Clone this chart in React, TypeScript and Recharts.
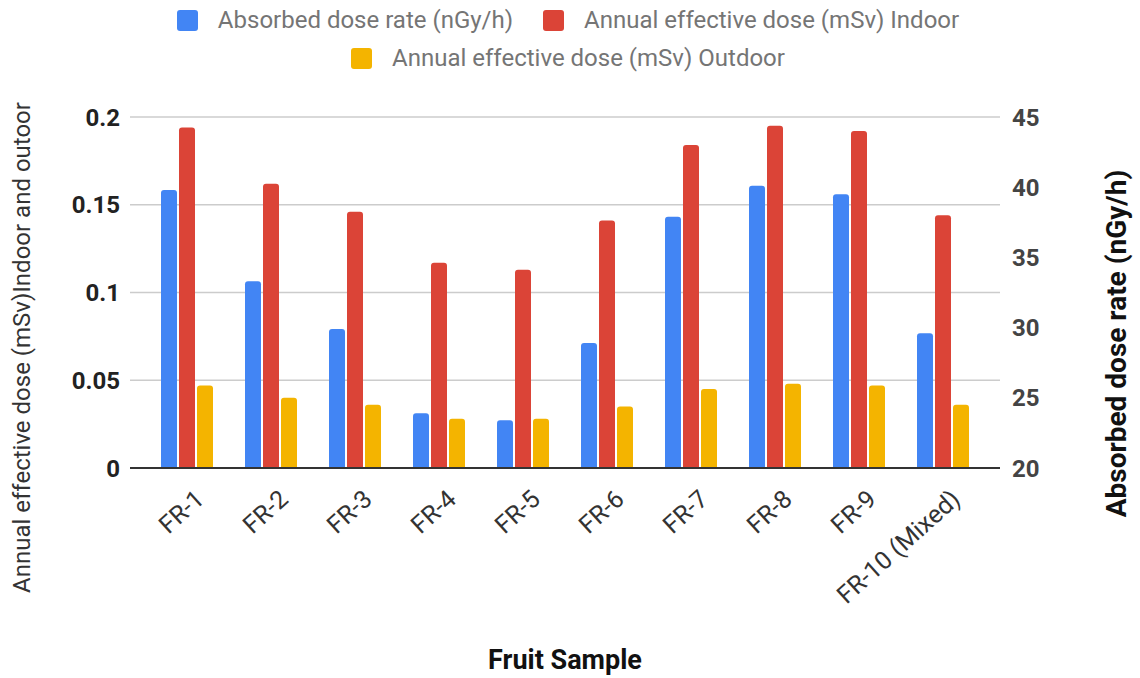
import React from 'react';
import { BarChart, Bar, XAxis, YAxis, CartesianGrid, Label } from 'recharts';

const categories = ['FR-1', 'FR-2', 'FR-3', 'FR-4', 'FR-5', 'FR-6', 'FR-7', 'FR-8', 'FR-9', 'FR-10 (Mixed)'];
const absorbedDoseRate = [39.8, 33.3, 29.9, 23.9, 23.4, 28.9, 37.9, 40.1, 39.5, 29.6];
const indoorDose = [0.194, 0.162, 0.146, 0.117, 0.113, 0.141, 0.184, 0.195, 0.192, 0.144];
const outdoorDose = [0.047, 0.04, 0.036, 0.028, 0.028, 0.035, 0.045, 0.048, 0.047, 0.036];

const leftTicks = [0, 0.05, 0.1, 0.15, 0.2];
const rightTicks = [20, 25, 30, 35, 40, 45];

const seriesNames = [
  'Absorbed dose rate (nGy/h)',
  'Annual effective dose (mSv) Indoor',
  'Annual effective dose (mSv) Outdoor',
];
const seriesColors = ['#4285F4', '#DB4437', '#F4B400'];

const data = categories.map((c, i) => ({
  name: c,
  absorbed: absorbedDoseRate[i],
  indoor: indoorDose[i],
  outdoor: outdoorDose[i],
}));

const FONT = 'Roboto, "Noto Sans", sans-serif';

const XTick = (props: any) => {
  const { x, y, payload } = props;
  const tx = x + 13;
  const ty = y + 27;
  return (
    <text
      x={tx}
      y={ty}
      textAnchor="end"
      dominantBaseline="central"
      transform={`rotate(-42, ${tx}, ${ty})`}
      fill="#333"
      fontSize={25}
      fontFamily={FONT}
    >
      {payload.value}
    </text>
  );
};

export default function App() {
  return (
    <div style={{ position: 'absolute', left: 0, top: 0, width: 1140, height: 678, background: '#fff', fontFamily: FONT }}>
      <div
        style={{
          position: 'absolute',
          left: 150,
          top: 8,
          width: 836,
          display: 'flex',
          flexWrap: 'wrap',
          justifyContent: 'center',
          rowGap: 14,
          columnGap: 30,
        }}
      >
        {seriesNames.map((n, i) => (
          <div key={n} style={{ display: 'flex', alignItems: 'center', height: 24 }}>
            <div style={{ width: 21, height: 21, borderRadius: 3, background: seriesColors[i], marginRight: 20 }} />
            <span style={{ fontSize: 24, color: '#757575', whiteSpace: 'nowrap', lineHeight: '24px' }}>{n}</span>
          </div>
        ))}
      </div>
      <BarChart
        width={1140}
        height={678}
        data={data}
        margin={{ top: 117, right: 0, bottom: 0, left: 0 }}
        barSize={16}
        barGap={2}
        barCategoryGap={16}
        style={{ fontFamily: FONT }}
      >
        <CartesianGrid yAxisId="left" vertical={false} stroke="#cccccc" strokeWidth={1.5} />
        <XAxis
          dataKey="name"
          height={210}
          interval={0}
          padding={{ left: 15, right: 15 }}
          axisLine={{ stroke: '#333', strokeWidth: 2 }}
          tickLine={false}
          tickSize={0}
          tickMargin={0}
          tick={<XTick />}
        >
          <Label
            content={(p: any) => {
              const vb = p.viewBox;
              return (
                <text
                  x={vb.x + vb.width / 2}
                  y={669}
                  textAnchor="middle"
                  fontSize={27}
                  fontWeight={700}
                  fill="#111"
                  fontFamily={FONT}
                >
                  Fruit Sample
                </text>
              );
            }}
          />
        </XAxis>
        <YAxis
          yAxisId="left"
          orientation="left"
          width={130}
          domain={[0, 0.2]}
          ticks={leftTicks}
          axisLine={false}
          tickLine={false}
          tickSize={0}
          tickMargin={10}
          tick={{ fontSize: 24, fontWeight: 700, fill: '#222', fontFamily: FONT }}
        >
          <Label
            content={(p: any) => {
              const vb = p.viewBox;
              const cx = 22;
              const cy = vb.y + vb.height / 2 + 55;
              return (
                <text
                  x={cx}
                  y={cy}
                  textAnchor="middle"
                  dominantBaseline="central"
                  transform={`rotate(-90, ${cx}, ${cy})`}
                  fontSize={24}
                  fill="#333"
                  fontFamily={FONT}
                >
                  Annual effective dose (mSv)Indoor and outoor
                </text>
              );
            }}
          />
        </YAxis>
        <YAxis
          yAxisId="right"
          orientation="right"
          width={140}
          domain={[20, 45]}
          ticks={rightTicks}
          axisLine={false}
          tickLine={false}
          tickSize={0}
          tickMargin={12}
          tick={{ fontSize: 24, fontWeight: 700, fill: '#444', fontFamily: FONT }}
        >
          <Label
            content={(p: any) => {
              const vb = p.viewBox;
              const cx = 1116;
              const cy = vb.y + vb.height / 2 + 51;
              return (
                <text
                  x={cx}
                  y={cy}
                  textAnchor="middle"
                  dominantBaseline="central"
                  transform={`rotate(-90, ${cx}, ${cy})`}
                  fontSize={28}
                  fontWeight={700}
                  fill="#111"
                  fontFamily={FONT}
                >
                  Absorbed dose rate (nGy/h)
                </text>
              );
            }}
          />
        </YAxis>
        <Bar yAxisId="right" dataKey="absorbed" name={seriesNames[0]} fill={seriesColors[0]} radius={[3, 3, 0, 0]} isAnimationActive={false} />
        <Bar yAxisId="left" dataKey="indoor" name={seriesNames[1]} fill={seriesColors[1]} radius={[3, 3, 0, 0]} isAnimationActive={false} />
        <Bar yAxisId="left" dataKey="outdoor" name={seriesNames[2]} fill={seriesColors[2]} radius={[3, 3, 0, 0]} isAnimationActive={false} />
      </BarChart>
    </div>
  );
}
